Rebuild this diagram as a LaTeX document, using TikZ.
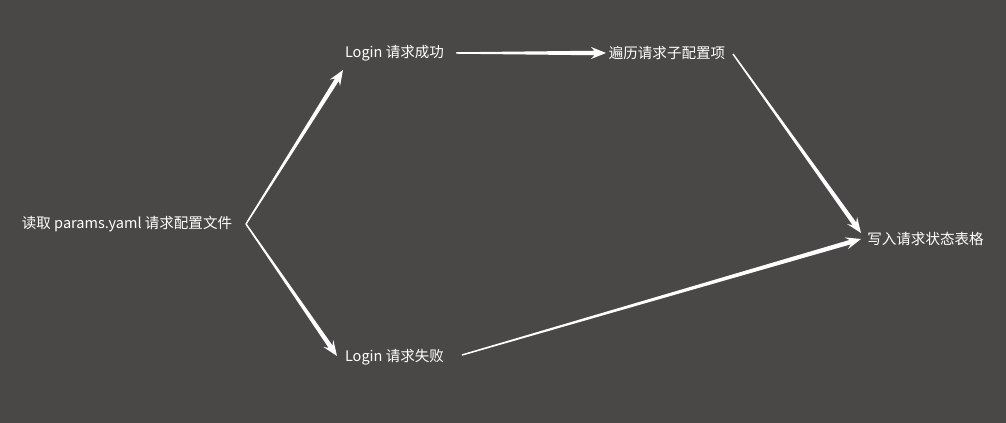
\documentclass[tikz,border=0pt]{standalone}
\usepackage{fontspec}
\setmainfont{Noto Sans CJK SC}
\usetikzlibrary{calc}
\definecolor{bgc}{HTML}{4A4846}
\newcommand{\taper}[2]{%
  \coordinate (tA) at #1;
  \coordinate (tB) at #2;
  \coordinate (tN) at ($(tB)!8.5pt!(tA)$);
  \coordinate (tW) at ($(tB)!11.5pt!(tA)$);
  \fill[white] ($(tA)!0.55pt!90:(tB)$) -- ($(tN)!1.7pt!90:(tB)$) -- ($(tW)!4.6pt!90:(tB)$) -- (tB)
    -- ($(tW)!4.6pt!-90:(tB)$) -- ($(tN)!1.7pt!-90:(tB)$) -- ($(tA)!0.55pt!-90:(tB)$) -- cycle;}
\begin{document}
\begin{tikzpicture}[x=0.75pt,y=-0.75pt,
  lbl/.style={text=white,font=\fontsize{10.9pt}{12pt}\selectfont,inner sep=0pt}]
\fill[bgc] (0,0) rectangle (1006,423);
\useasboundingbox (0,0) rectangle (1006,423);
\node[lbl] (A) at (127,224) {读取 params.yaml 请求配置文件};
\node[lbl] (B) at (394.5,53) {Login 请求成功};
\node[lbl] (C) at (667,53) {遍历请求子配置项};
\node[lbl] (D) at (394.5,357) {Login 请求失败};
\node[lbl] (E) at (925.5,239) {写入请求状态表格};
\taper{($(A)+(119,0)$)}{($(B)+(-51.5,17)$)}
\taper{($(A)+(119,0)$)}{($(D)+(-57.5,-1)$)}
\taper{($(B)+(61.5,0)$)}{($(C)+(-61,0)$)}
\taper{($(C)+(66,1)$)}{($(E)+(-64.5,-6)$)}
\taper{($(D)+(67.5,-2)$)}{($(E)+(-64.5,0)$)}
\end{tikzpicture}
\end{document}
